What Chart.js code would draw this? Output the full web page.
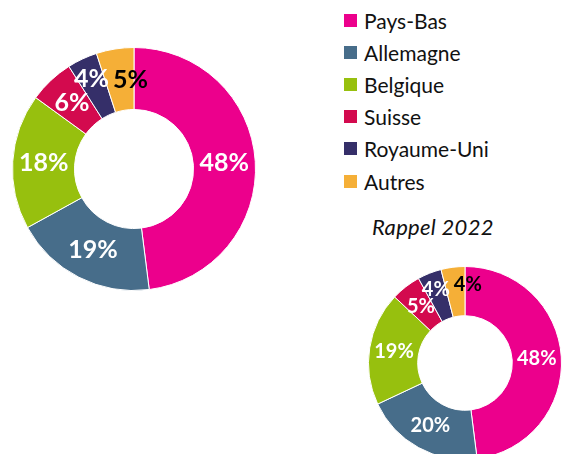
<!DOCTYPE html>
<html lang="fr">
<head>
<meta charset="utf-8">
<script src="https://cdn.jsdelivr.net/npm/chart.js@4.4.1/dist/chart.umd.min.js"></script>
<style>
  html, body { margin: 0; padding: 0; background: #fff; }
  body { width: 562px; height: 454px; position: relative; overflow: hidden; font-family: Lato, 'Noto Sans', sans-serif; }
  .chart-box { position: absolute; }
  #mainBox { left: 12px; top: 47px; width: 244px; height: 244px; }
  #prevBox { left: 368px; top: 266px; width: 194px; height: 194px; }
  .legend { position: absolute; left: 344px; top: 4px; margin: 0; padding: 0; list-style: none; }
  .legend li { height: 32.2px; display: flex; align-items: center; font-size: 21px; color: #111; }
  .legend .sw { width: 13px; height: 13px; margin-right: 7px; flex: none; }
  .rappel { position: absolute; left: 372px; top: 213px; font-size: 22px; font-style: italic; color: #111; letter-spacing: 0.3px; }
</style>
</head>
<body>
<div class="chart-box" id="mainBox"><canvas id="mainChart"></canvas></div>
<div class="chart-box" id="prevBox"><canvas id="prevChart"></canvas></div>
<ul class="legend" id="legend"></ul>
<div class="rappel">Rappel 2022</div>
<script>
'use strict';

// ----- données -----
const countries = ['Pays-Bas', 'Allemagne', 'Belgique', 'Suisse', 'Royaume-Uni', 'Autres'];
const colors = ['#ec008c', '#476d8a', '#97c00e', '#d30a4e', '#352f69', '#f5af37'];
const share2023 = [48, 19, 18, 6, 4, 5];
const share2022 = [48, 20, 19, 5, 4, 4];

// ----- légende HTML -----
const legendEl = document.getElementById('legend');
countries.forEach((c, i) => {
  const li = document.createElement('li');
  li.innerHTML = `<span class="sw" style="background:${colors[i]}"></span>${c}`;
  legendEl.appendChild(li);
});

// ----- étiquettes de pourcentage (très petites parts poussées vers l'extérieur, sans chevauchement) -----
const pctLabels = {
  id: 'pctLabels',
  afterDatasetsDraw(chart, args, opts) {
    const { ctx } = chart;
    const meta = chart.getDatasetMeta(0);
    const values = chart.data.datasets[0].data;
    const h = opts.size * 0.75;
    ctx.save();
    ctx.font = `bold ${opts.size}px Lato, 'Noto Sans', sans-serif`;
    ctx.textAlign = 'center';
    ctx.textBaseline = 'middle';
    let prev = null;
    meta.data.forEach((arc, i) => {
      const p = arc.getProps(['x', 'y', 'startAngle', 'endAngle', 'innerRadius', 'outerRadius'], true);
      const mid = (p.startAngle + p.endAngle) / 2;
      const thick = p.outerRadius - p.innerRadius;
      const r = p.innerRadius + thick * (values[i] <= 4 ? 0.65 : 0.5);
      const text = values[i] + '%';
      const w = ctx.measureText(text).width;
      let x = p.x + Math.cos(mid) * r;
      const y = p.y + Math.sin(mid) * r;
      if (prev && Math.abs(y - prev.y) < h && x - w / 2 < prev.right + 4) {
        x = prev.right + 4 + w / 2;
      }
      prev = { right: x + w / 2, y };
      ctx.fillStyle = i === values.length - 1 ? '#000' : '#fff';
      ctx.fillText(text, x, y);
    });
    ctx.restore();
  }
};

function makeDonut(id, values, size) {
  return new Chart(document.getElementById(id), {
    type: 'doughnut',
    data: {
      labels: countries,
      datasets: [{
        data: values,
        backgroundColor: colors,
        borderColor: '#fff',
        borderWidth: 1
      }]
    },
    options: {
      responsive: true,
      maintainAspectRatio: false,
      animation: false,
      cutout: '49%',
      layout: { padding: 0 },
      plugins: {
        legend: { display: false },
        tooltip: { enabled: false },
        pctLabels: { size }
      }
    },
    plugins: [pctLabels]
  });
}

makeDonut('mainChart', share2023, 25);
makeDonut('prevChart', share2022, 20);
</script>
</body>
</html>
